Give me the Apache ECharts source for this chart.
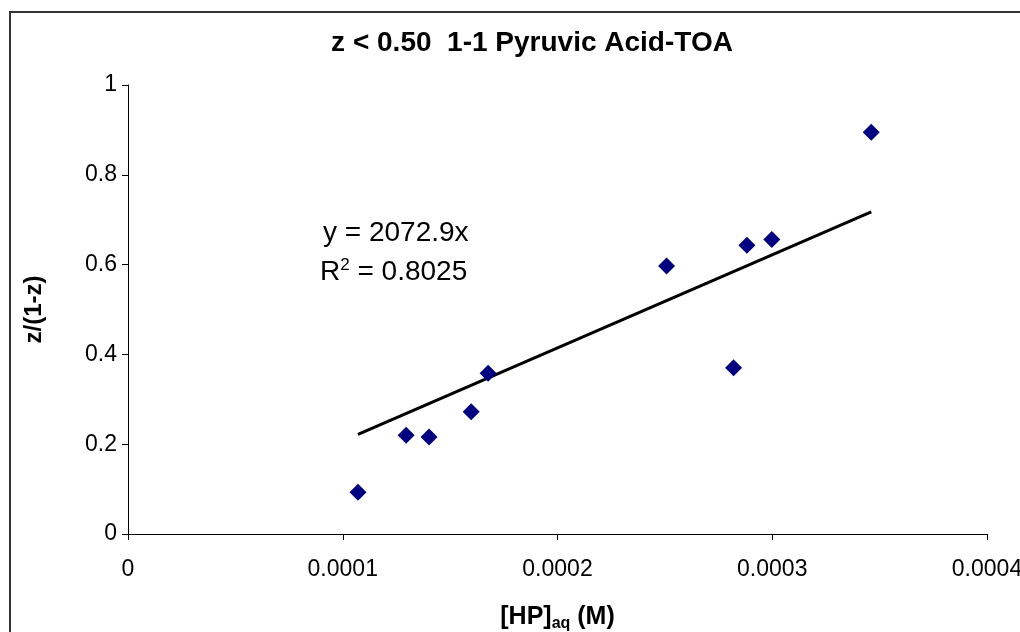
<!DOCTYPE html>
<html>
<head>
<meta charset="utf-8">
<script src="https://cdn.jsdelivr.net/npm/echarts@6/dist/echarts.min.js"></script>
<style>
  html, body { margin: 0; padding: 0; background: #fff; }
  #main { width: 1020px; height: 632px; }
</style>
</head>
<body>
<div id="main"></div>
<script>
// measured points, [HP]aq (M) vs z/(1-z)
var hpAq = [0.0001071, 0.0001295, 0.0001402, 0.0001598, 0.0001677, 0.0002508, 0.0002820, 0.0002882, 0.0002998, 0.0003461];
var zRatio = [0.093, 0.220, 0.216, 0.272, 0.358, 0.597, 0.370, 0.643, 0.656, 0.895];
// linear trend through origin: y = 2072.9x
var slope = 2072.9;
var xTicks = [0, 0.0001, 0.0002, 0.0003, 0.0004];
var yTicks = [0, 0.2, 0.4, 0.6, 0.8, 1];

var font = '"Liberation Sans", Arial, sans-serif';
var points = hpAq.map(function (x, i) { return [x, zRatio[i]]; });
var xMin = Math.min.apply(null, hpAq), xMax = Math.max.apply(null, hpAq);
var trend = [[xMin, slope * xMin], [xMax, slope * xMax]];

var chart = echarts.init(document.getElementById('main'));
var option = {
  backgroundColor: '#fff',
  animation: false,
  title: {
    text: 'z < 0.50  1-1 Pyruvic Acid-TOA',
    left: 527, top: 24, textAlign: 'center',
    textStyle: { fontFamily: font, fontSize: 28, fontWeight: 'bold', color: '#000' }
  },
  grid: { left: 128, right: 33, top: 85, bottom: 98, outerBoundsMode: 'none', containLabel: false },
  xAxis: {
    type: 'value', min: 0, max: 0.0004, interval: 0.0001,
    splitLine: { show: false },
    axisLine: { onZero: false, lineStyle: { color: '#000', width: 1 } },
    axisTick: { length: 6, lineStyle: { color: '#000' } },
    axisLabel: {
      margin: 24, fontFamily: font, fontSize: 23, color: '#000',
      formatter: function (v) { return xTicks.indexOf(v) >= 0 ? String(+v.toFixed(4)) : ''; }
    },
    name: '{b|[HP]}{s|aq}{b| (M)}',
    nameLocation: 'middle', nameGap: 68,
    nameTextStyle: {
      rich: {
        b: { fontFamily: font, fontSize: 25, fontWeight: 'bold', color: '#000' },
        s: { fontFamily: font, fontSize: 16, fontWeight: 'bold', color: '#000', padding: [14, 0, 0, 0] }
      }
    }
  },
  yAxis: {
    type: 'value', min: 0, max: 1, interval: 0.2,
    splitLine: { show: false },
    axisLine: { show: true, lineStyle: { color: '#000', width: 1 } },
    axisTick: { show: true, length: 6, lineStyle: { color: '#000' } },
    axisLabel: {
      margin: 11, fontFamily: font, fontSize: 23, color: '#000',
      formatter: function (v) { return String(+v.toFixed(1)); }
    },
    name: 'z/(1-z)',
    nameLocation: 'middle', nameGap: 82,
    nameTextStyle: { fontFamily: font, fontSize: 24, fontWeight: 'bold', color: '#000' }
  },
  series: [
    {
      type: 'line', data: trend, showSymbol: false, symbol: 'none',
      lineStyle: { color: '#000', width: 3 }, z: 2
    },
    {
      type: 'scatter', data: points, symbol: 'diamond', symbolSize: 17,
      itemStyle: { color: '#000080', opacity: 1 }, z: 3
    }
  ],
  graphic: [
    {
      type: 'rect', shape: { x: 10, y: 12, width: 1020, height: 640 },
      style: { fill: 'none', stroke: '#333', lineWidth: 2 }, silent: true
    },
    {
      type: 'text', x: 323, y: 233,
      style: { text: 'y = 2072.9x', font: '28px "Liberation Sans", Arial, sans-serif', fill: '#000', verticalAlign: 'middle' }
    },
    {
      type: 'text', x: 320, y: 272,
      style: {
        text: '{t|R}{sup|2}{t| = 0.8025}',
        verticalAlign: 'middle',
        rich: {
          t: { fontFamily: font, fontSize: 28, color: '#000' },
          sup: { fontFamily: font, fontSize: 17, color: '#000', padding: [0, 0, 14, 0] }
        }
      }
    }
  ]
};
chart.setOption(option);
</script>
</body>
</html>
